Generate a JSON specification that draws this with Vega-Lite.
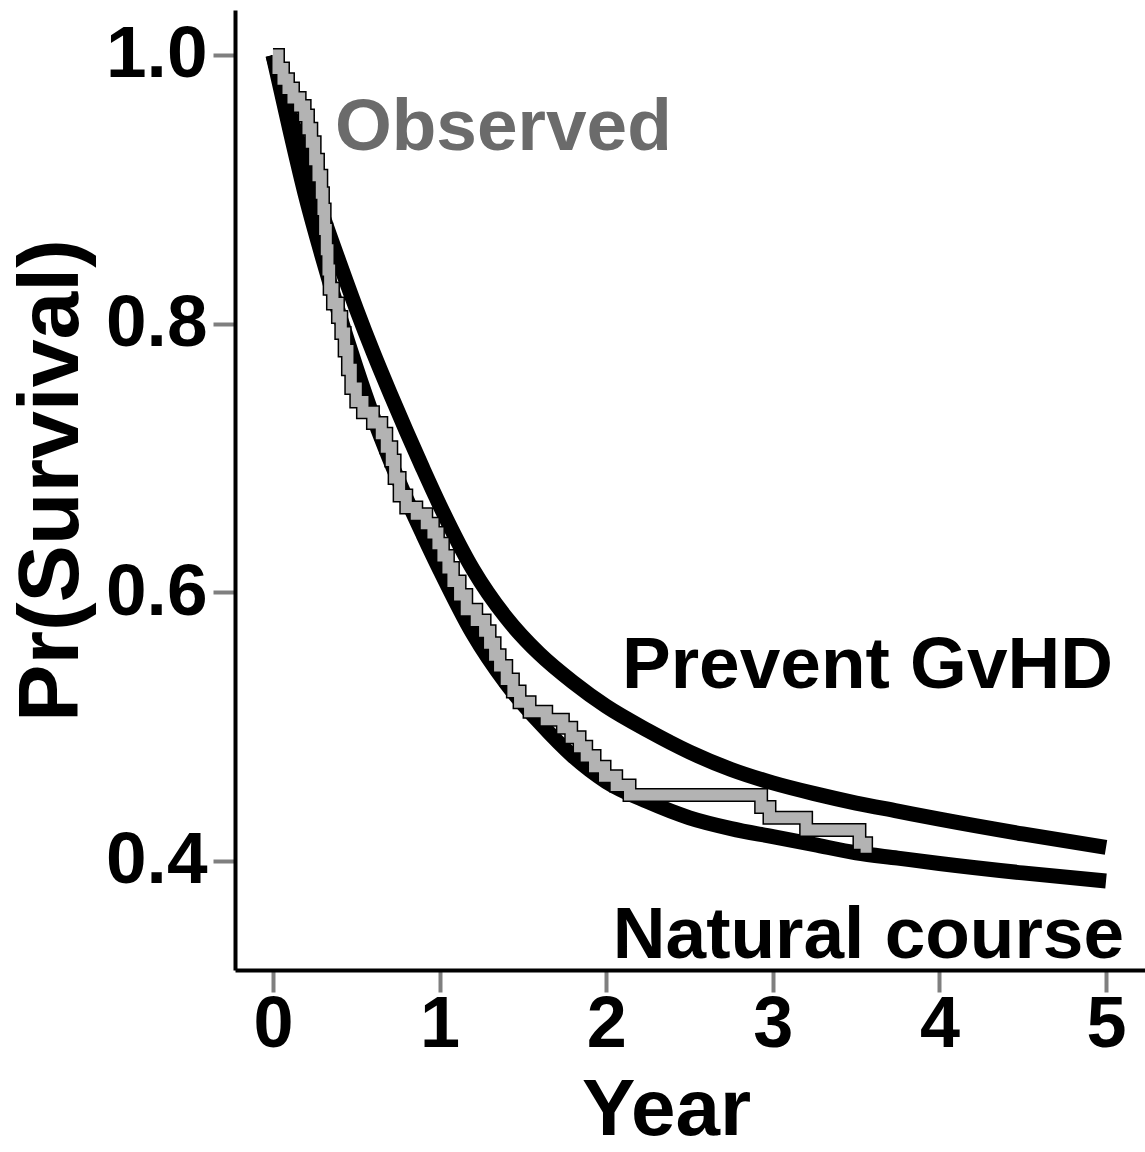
{
  "$schema": "https://vega.github.io/schema/vega-lite/v6.json",
  "autosize": {"type": "none"},
  "padding": {"left": 235, "top": 10, "right": 0, "bottom": 182},
  "width": 910,
  "height": 960,
  "background": "white",
  "config": {
    "view": {"stroke": null},
    "font": "Liberation Sans",
    "axis": {
      "domainColor": "black",
      "domainWidth": 4,
      "tickColor": "#7f7f7f",
      "tickWidth": 4,
      "tickSize": 22,
      "grid": false,
      "labelFont": "Liberation Sans",
      "labelFontWeight": "bold",
      "labelColor": "black",
      "titleFont": "Liberation Sans",
      "titleFontWeight": "bold",
      "titleColor": "black"
    }
  },
  "datasets": {
    "curves": [
      {"series": "Prevent GvHD", "t": 0, "v": 1.0},
      {"series": "Prevent GvHD", "t": 0.1, "v": 0.957},
      {"series": "Prevent GvHD", "t": 0.2, "v": 0.917},
      {"series": "Prevent GvHD", "t": 0.3, "v": 0.88},
      {"series": "Prevent GvHD", "t": 0.4, "v": 0.845},
      {"series": "Prevent GvHD", "t": 0.5, "v": 0.811},
      {"series": "Prevent GvHD", "t": 0.6, "v": 0.779},
      {"series": "Prevent GvHD", "t": 0.7, "v": 0.749},
      {"series": "Prevent GvHD", "t": 0.8, "v": 0.72},
      {"series": "Prevent GvHD", "t": 0.9, "v": 0.692},
      {"series": "Prevent GvHD", "t": 1.0, "v": 0.665},
      {"series": "Prevent GvHD", "t": 1.2, "v": 0.617},
      {"series": "Prevent GvHD", "t": 1.4, "v": 0.581},
      {"series": "Prevent GvHD", "t": 1.6, "v": 0.554},
      {"series": "Prevent GvHD", "t": 1.8, "v": 0.533},
      {"series": "Prevent GvHD", "t": 2.0, "v": 0.515},
      {"series": "Prevent GvHD", "t": 2.25, "v": 0.497},
      {"series": "Prevent GvHD", "t": 2.5, "v": 0.481},
      {"series": "Prevent GvHD", "t": 2.75, "v": 0.468},
      {"series": "Prevent GvHD", "t": 3.0, "v": 0.458},
      {"series": "Prevent GvHD", "t": 3.25, "v": 0.45},
      {"series": "Prevent GvHD", "t": 3.5, "v": 0.443},
      {"series": "Prevent GvHD", "t": 3.75, "v": 0.437},
      {"series": "Prevent GvHD", "t": 4.0, "v": 0.431},
      {"series": "Prevent GvHD", "t": 4.5, "v": 0.42},
      {"series": "Prevent GvHD", "t": 5.0, "v": 0.41},
      {"series": "Natural course", "t": 0, "v": 1.0},
      {"series": "Natural course", "t": 0.1, "v": 0.945},
      {"series": "Natural course", "t": 0.2, "v": 0.893},
      {"series": "Natural course", "t": 0.3, "v": 0.848},
      {"series": "Natural course", "t": 0.4, "v": 0.806},
      {"series": "Natural course", "t": 0.5, "v": 0.767},
      {"series": "Natural course", "t": 0.6, "v": 0.731},
      {"series": "Natural course", "t": 0.7, "v": 0.699},
      {"series": "Natural course", "t": 0.8, "v": 0.67},
      {"series": "Natural course", "t": 0.9, "v": 0.643},
      {"series": "Natural course", "t": 1.0, "v": 0.617},
      {"series": "Natural course", "t": 1.2, "v": 0.569},
      {"series": "Natural course", "t": 1.4, "v": 0.532},
      {"series": "Natural course", "t": 1.6, "v": 0.503},
      {"series": "Natural course", "t": 1.8, "v": 0.478},
      {"series": "Natural course", "t": 2.0, "v": 0.459},
      {"series": "Natural course", "t": 2.25, "v": 0.444},
      {"series": "Natural course", "t": 2.5, "v": 0.432},
      {"series": "Natural course", "t": 2.75, "v": 0.424},
      {"series": "Natural course", "t": 3.0, "v": 0.418},
      {"series": "Natural course", "t": 3.25, "v": 0.412},
      {"series": "Natural course", "t": 3.5, "v": 0.406},
      {"series": "Natural course", "t": 3.75, "v": 0.402},
      {"series": "Natural course", "t": 4.0, "v": 0.398},
      {"series": "Natural course", "t": 4.5, "v": 0.391},
      {"series": "Natural course", "t": 5.0, "v": 0.385}
    ],
    "observed": [
      {"t": 0.0, "v": 1.0}, {"t": 0.03, "v": 0.99}, {"t": 0.06, "v": 0.982},
      {"t": 0.09, "v": 0.975}, {"t": 0.12, "v": 0.968}, {"t": 0.16, "v": 0.962},
      {"t": 0.19, "v": 0.955}, {"t": 0.21, "v": 0.945}, {"t": 0.23, "v": 0.935},
      {"t": 0.25, "v": 0.922}, {"t": 0.27, "v": 0.91}, {"t": 0.29, "v": 0.897},
      {"t": 0.3, "v": 0.885}, {"t": 0.31, "v": 0.87}, {"t": 0.32, "v": 0.855},
      {"t": 0.33, "v": 0.84}, {"t": 0.34, "v": 0.826}, {"t": 0.36, "v": 0.815},
      {"t": 0.39, "v": 0.805}, {"t": 0.41, "v": 0.793}, {"t": 0.43, "v": 0.78},
      {"t": 0.45, "v": 0.766}, {"t": 0.47, "v": 0.752}, {"t": 0.5, "v": 0.742},
      {"t": 0.54, "v": 0.734}, {"t": 0.6, "v": 0.726}, {"t": 0.65, "v": 0.718},
      {"t": 0.68, "v": 0.708}, {"t": 0.71, "v": 0.698}, {"t": 0.73, "v": 0.685},
      {"t": 0.76, "v": 0.672}, {"t": 0.8, "v": 0.663}, {"t": 0.86, "v": 0.658},
      {"t": 0.92, "v": 0.651}, {"t": 0.96, "v": 0.644}, {"t": 0.99, "v": 0.636},
      {"t": 1.02, "v": 0.627}, {"t": 1.05, "v": 0.618}, {"t": 1.08, "v": 0.608},
      {"t": 1.12, "v": 0.598}, {"t": 1.16, "v": 0.587}, {"t": 1.22, "v": 0.579},
      {"t": 1.27, "v": 0.571}, {"t": 1.3, "v": 0.562}, {"t": 1.33, "v": 0.553},
      {"t": 1.36, "v": 0.545}, {"t": 1.4, "v": 0.535}, {"t": 1.44, "v": 0.526},
      {"t": 1.48, "v": 0.518}, {"t": 1.54, "v": 0.511}, {"t": 1.64, "v": 0.505},
      {"t": 1.74, "v": 0.499}, {"t": 1.79, "v": 0.492}, {"t": 1.84, "v": 0.485},
      {"t": 1.88, "v": 0.478}, {"t": 1.93, "v": 0.47}, {"t": 1.99, "v": 0.463},
      {"t": 2.06, "v": 0.456}, {"t": 2.14, "v": 0.449}, {"t": 2.93, "v": 0.44},
      {"t": 2.98, "v": 0.432}, {"t": 3.2, "v": 0.423}, {"t": 3.52, "v": 0.413},
      {"t": 3.56, "v": 0.406}
    ],
    "labels": [
      {"t": 0.372, "v": 0.929, "label": "Observed", "kind": "obs"},
      {"t": 2.095, "v": 0.529, "label": "Prevent GvHD", "kind": "model"},
      {"t": 2.04, "v": 0.328, "label": "Natural course", "kind": "model"}
    ]
  },
  "encoding": {
    "x": {
      "field": "t", "type": "quantitative",
      "scale": {"domain": [-0.228, 5.234], "nice": false, "zero": false},
      "axis": {"values": [0, 1, 2, 3, 4, 5], "title": "Year", "labelFontSize": 72, "titleFontSize": 80, "labelPadding": -3, "titleX": 431, "titleY": 164, "titleBaseline": "alphabetic", "format": "d"}
    },
    "y": {
      "field": "v", "type": "quantitative",
      "scale": {"domain": [0.3187, 1.0335], "nice": false, "zero": false},
      "axis": {"values": [0.4, 0.6, 0.8, 1.0], "title": "Pr(Survival)", "labelFontSize": 73, "titleFontSize": 86, "labelPadding": 6, "titleX": -158, "titleY": 470, "titleBaseline": "alphabetic", "format": ".1f"}
    }
  },
  "layer": [
    {
      "data": {"name": "curves"},
      "mark": {"type": "line", "color": "black", "strokeWidth": 15, "strokeCap": "butt", "interpolate": "monotone"},
      "encoding": {"detail": {"field": "series"}}
    },
    {
      "data": {"name": "observed"},
      "mark": {"type": "line", "color": "black", "strokeWidth": 14, "strokeCap": "butt", "interpolate": "step-after"},
      "encoding": {}
    },
    {
      "data": {"name": "observed"},
      "mark": {"type": "line", "color": "#b3b3b3", "strokeWidth": 11, "strokeCap": "butt", "interpolate": "step-after"},
      "encoding": {}
    },
    {
      "data": {"name": "labels"},
      "mark": {"type": "text", "align": "left", "baseline": "alphabetic", "fontSize": 73, "fontWeight": "bold", "font": "Liberation Sans"},
      "encoding": {
        "text": {"field": "label"},
        "color": {"field": "kind", "type": "nominal", "scale": {"domain": ["obs", "model"], "range": ["#6b6b6b", "black"]}, "legend": null}
      }
    }
  ]
}
